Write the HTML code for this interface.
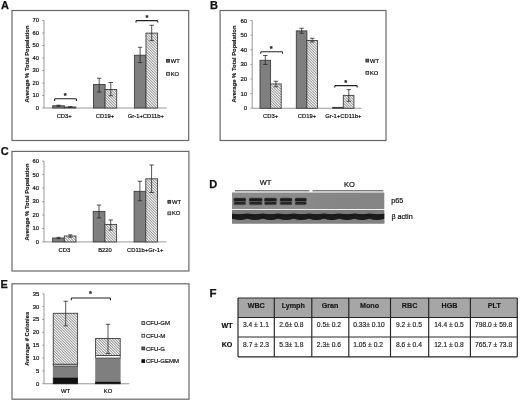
<!DOCTYPE html>
<html><head><meta charset="utf-8"><title>Figure</title>
<style>
html,body{margin:0;padding:0;background:#fff;}
body{width:520px;height:401px;overflow:hidden;position:relative;font-family:"Liberation Sans",Arial,sans-serif;}
svg{position:absolute;left:0;top:0;display:block;}
svg text{font-family:"Liberation Sans",Arial,sans-serif;}
</style></head><body>
<svg width="520" height="401" viewBox="0 0 520 401">
<defs>
<pattern id="hatch" width="1.5" height="1.5" patternUnits="userSpaceOnUse" patternTransform="rotate(-45)">
<rect width="1.5" height="1.5" fill="#fff"/>
<rect x="0" y="0" width="0.55" height="1.5" fill="#6a6a6a"/>
</pattern>
<linearGradient id="blotA" x1="0" x2="1" y1="0" y2="0">
<stop offset="0" stop-color="#8c8c8c"/><stop offset="0.45" stop-color="#8b8b8b"/><stop offset="0.6" stop-color="#868686"/><stop offset="1" stop-color="#848484"/>
</linearGradient>
<clipPath id="clipP"><rect x="232" y="192.5" width="152.3" height="16.5"/></clipPath>
<clipPath id="clipA"><rect x="232" y="209.9" width="152.3" height="13.6"/></clipPath>
<filter id="hb" x="-5%" y="-5%" width="110%" height="110%"><feGaussianBlur stdDeviation="0.35"/></filter>
<filter id="blur1" x="-10%" y="-50%" width="120%" height="200%"><feGaussianBlur stdDeviation="0.6"/></filter>
<filter id="blur2" x="-10%" y="-50%" width="120%" height="200%"><feGaussianBlur stdDeviation="0.8"/></filter>
</defs>
<rect width="520" height="401" fill="#fff"/>

<g id="panelA">
<rect x="12" y="10.5" width="176.7" height="130.0" fill="#fff" stroke="#686868" stroke-width="1.2"/>
<text x="1.0" y="9.3" font-size="11" text-anchor="start" font-weight="bold" fill="#111"  stroke="#111" stroke-width="0.25">A</text>
<path d="M44 20.5V108H166.8" stroke="#8c8c8c" stroke-width="0.9" fill="none"/>
<path d="M42.2 108.00H44" stroke="#8c8c8c" stroke-width="0.8"/>
<text x="39.0" y="109.7" font-size="5.8" text-anchor="end" fill="#111"  stroke="#111" stroke-width="0.2">0</text>
<path d="M42.2 95.50H44" stroke="#8c8c8c" stroke-width="0.8"/>
<text x="39.0" y="97.2" font-size="5.8" text-anchor="end" fill="#111"  stroke="#111" stroke-width="0.2">10</text>
<path d="M42.2 83.00H44" stroke="#8c8c8c" stroke-width="0.8"/>
<text x="39.0" y="84.7" font-size="5.8" text-anchor="end" fill="#111"  stroke="#111" stroke-width="0.2">20</text>
<path d="M42.2 70.50H44" stroke="#8c8c8c" stroke-width="0.8"/>
<text x="39.0" y="72.2" font-size="5.8" text-anchor="end" fill="#111"  stroke="#111" stroke-width="0.2">30</text>
<path d="M42.2 58.00H44" stroke="#8c8c8c" stroke-width="0.8"/>
<text x="39.0" y="59.7" font-size="5.8" text-anchor="end" fill="#111"  stroke="#111" stroke-width="0.2">40</text>
<path d="M42.2 45.50H44" stroke="#8c8c8c" stroke-width="0.8"/>
<text x="39.0" y="47.2" font-size="5.8" text-anchor="end" fill="#111"  stroke="#111" stroke-width="0.2">50</text>
<path d="M42.2 33.00H44" stroke="#8c8c8c" stroke-width="0.8"/>
<text x="39.0" y="34.7" font-size="5.8" text-anchor="end" fill="#111"  stroke="#111" stroke-width="0.2">60</text>
<path d="M42.2 20.50H44" stroke="#8c8c8c" stroke-width="0.8"/>
<text x="39.0" y="22.2" font-size="5.8" text-anchor="end" fill="#111"  stroke="#111" stroke-width="0.2">70</text>
<text transform="translate(28.6,64) rotate(-90)" font-size="5.8" text-anchor="middle" font-weight="bold" fill="#111" stroke="#111" stroke-width="0.12" textLength="77" lengthAdjust="spacingAndGlyphs">Average % Total Population</text>
<rect x="52.699999999999996" y="105.75" width="11.60" height="2.25" fill="#7f7f7f" stroke="#3e3e3e" stroke-width="0.9"/>
<rect x="64.3" y="107.0" width="11.60" height="1.00" fill="#fff"/>
<path d="M74.60 107.00L75.60 108.00M71.90 107.00L72.90 108.00M69.20 107.00L70.20 108.00M66.50 107.00L67.50 108.00M64.30 107.50L64.80 108.00" stroke="#3a3a3a" stroke-width="1.1" stroke-opacity="0.32" fill="none"/>
<path d="M74.60 107.00L75.60 108.00M71.90 107.00L72.90 108.00M69.20 107.00L70.20 108.00M66.50 107.00L67.50 108.00M64.30 107.50L64.80 108.00" stroke="#3a3a3a" stroke-width="0.6" stroke-opacity="0.55" fill="none"/>
<rect x="64.3" y="107.0" width="11.60" height="1.00" fill="none" stroke="#3e3e3e" stroke-width="0.9"/>
<rect x="93.5" y="84.5" width="11.60" height="23.50" fill="#7f7f7f" stroke="#3e3e3e" stroke-width="0.9"/>
<rect x="105.1" y="89.5" width="11.60" height="18.50" fill="#fff"/>
<path d="M116.50 89.50L116.70 89.70M113.80 89.50L116.70 92.40M111.10 89.50L116.70 95.10M108.40 89.50L116.70 97.80M105.70 89.50L116.70 100.50M105.10 91.60L116.70 103.20M105.10 94.30L116.70 105.90M105.10 97.00L116.10 108.00M105.10 99.70L113.40 108.00M105.10 102.40L110.70 108.00M105.10 105.10L108.00 108.00M105.10 107.80L105.30 108.00" stroke="#3a3a3a" stroke-width="1.1" stroke-opacity="0.32" fill="none"/>
<path d="M116.50 89.50L116.70 89.70M113.80 89.50L116.70 92.40M111.10 89.50L116.70 95.10M108.40 89.50L116.70 97.80M105.70 89.50L116.70 100.50M105.10 91.60L116.70 103.20M105.10 94.30L116.70 105.90M105.10 97.00L116.10 108.00M105.10 99.70L113.40 108.00M105.10 102.40L110.70 108.00M105.10 105.10L108.00 108.00M105.10 107.80L105.30 108.00" stroke="#3a3a3a" stroke-width="0.6" stroke-opacity="0.55" fill="none"/>
<rect x="105.1" y="89.5" width="11.60" height="18.50" fill="none" stroke="#3e3e3e" stroke-width="0.9"/>
<rect x="134.4" y="55.25" width="11.60" height="52.75" fill="#7f7f7f" stroke="#3e3e3e" stroke-width="0.9"/>
<rect x="146.0" y="33.125" width="11.60" height="74.88" fill="#fff"/>
<path d="M157.32 33.12L157.60 33.40M154.62 33.12L157.60 36.10M151.93 33.12L157.60 38.80M149.23 33.13L157.60 41.50M146.53 33.12L157.60 44.20M146.00 35.30L157.60 46.90M146.00 38.00L157.60 49.60M146.00 40.70L157.60 52.30M146.00 43.40L157.60 55.00M146.00 46.10L157.60 57.70M146.00 48.80L157.60 60.40M146.00 51.50L157.60 63.10M146.00 54.20L157.60 65.80M146.00 56.90L157.60 68.50M146.00 59.60L157.60 71.20M146.00 62.30L157.60 73.90M146.00 65.00L157.60 76.60M146.00 67.70L157.60 79.30M146.00 70.40L157.60 82.00M146.00 73.10L157.60 84.70M146.00 75.80L157.60 87.40M146.00 78.50L157.60 90.10M146.00 81.20L157.60 92.80M146.00 83.90L157.60 95.50M146.00 86.60L157.60 98.20M146.00 89.30L157.60 100.90M146.00 92.00L157.60 103.60M146.00 94.70L157.60 106.30M146.00 97.40L156.60 108.00M146.00 100.10L153.90 108.00M146.00 102.80L151.20 108.00M146.00 105.50L148.50 108.00" stroke="#3a3a3a" stroke-width="1.1" stroke-opacity="0.32" fill="none"/>
<path d="M157.32 33.12L157.60 33.40M154.62 33.12L157.60 36.10M151.93 33.12L157.60 38.80M149.23 33.13L157.60 41.50M146.53 33.12L157.60 44.20M146.00 35.30L157.60 46.90M146.00 38.00L157.60 49.60M146.00 40.70L157.60 52.30M146.00 43.40L157.60 55.00M146.00 46.10L157.60 57.70M146.00 48.80L157.60 60.40M146.00 51.50L157.60 63.10M146.00 54.20L157.60 65.80M146.00 56.90L157.60 68.50M146.00 59.60L157.60 71.20M146.00 62.30L157.60 73.90M146.00 65.00L157.60 76.60M146.00 67.70L157.60 79.30M146.00 70.40L157.60 82.00M146.00 73.10L157.60 84.70M146.00 75.80L157.60 87.40M146.00 78.50L157.60 90.10M146.00 81.20L157.60 92.80M146.00 83.90L157.60 95.50M146.00 86.60L157.60 98.20M146.00 89.30L157.60 100.90M146.00 92.00L157.60 103.60M146.00 94.70L157.60 106.30M146.00 97.40L156.60 108.00M146.00 100.10L153.90 108.00M146.00 102.80L151.20 108.00M146.00 105.50L148.50 108.00" stroke="#3a3a3a" stroke-width="0.6" stroke-opacity="0.55" fill="none"/>
<rect x="146.0" y="33.125" width="11.60" height="74.88" fill="none" stroke="#3e3e3e" stroke-width="0.9"/>
<path d="M58.5 105.2V106.4M56.5 105.2H60.5M56.5 106.4H60.5" stroke="#2a2a2a" stroke-width="0.8" fill="none"/>
<path d="M70.3 106.6V107.4M68.3 106.6H72.3M68.3 107.4H72.3" stroke="#2a2a2a" stroke-width="0.8" fill="none"/>
<path d="M99.2 78.25V92M97.0 78.25H101.4M97.0 92H101.4" stroke="#2a2a2a" stroke-width="0.8" fill="none"/>
<path d="M110.8 82.5V95.75M108.6 82.5H113.0M108.6 95.75H113.0" stroke="#2a2a2a" stroke-width="0.8" fill="none"/>
<path d="M140.1 47.25V62.5M137.9 47.25H142.29999999999998M137.9 62.5H142.29999999999998" stroke="#2a2a2a" stroke-width="0.8" fill="none"/>
<path d="M151.7 25.25V40.6M149.5 25.25H153.89999999999998M149.5 40.6H153.89999999999998" stroke="#2a2a2a" stroke-width="0.8" fill="none"/>
<path d="M54.6 100.9V99.6Q54.6 98.8 55.4 98.8H75.60000000000001Q76.4 98.8 76.4 99.6V100.9" stroke="#222" stroke-width="1.1" fill="none"/>
<text x="65.3" y="98.3" font-size="7.5" text-anchor="middle" font-weight="bold" fill="#111"  stroke="#111" stroke-width="0.2">*</text>
<path d="M136 22.6V21.400000000000002Q136 20.6 136.8 20.6H156.95Q157.75 20.6 157.75 21.400000000000002V22.6" stroke="#222" stroke-width="1.1" fill="none"/>
<text x="146.9" y="20.05" font-size="7.5" text-anchor="middle" font-weight="bold" fill="#111"  stroke="#111" stroke-width="0.2">*</text>
<text x="64.2" y="118.2" font-size="5.85" text-anchor="middle" fill="#111"  stroke="#111" stroke-width="0.2">CD3+</text>
<text x="105.0" y="118.2" font-size="5.85" text-anchor="middle" fill="#111"  stroke="#111" stroke-width="0.2">CD19+</text>
<text x="145.9" y="118.2" font-size="5.85" text-anchor="middle" fill="#111"  stroke="#111" stroke-width="0.2">Gr-1+CD11b+</text>
<rect x="166.60" y="59.40" width="2.8" height="2.8" fill="#686868" stroke="#2e2e2e" stroke-width="0.9"/>
<text x="170.7" y="62.9" font-size="5.8" text-anchor="start" fill="#111"  stroke="#111" stroke-width="0.2">WT</text>
<rect x="166.60" y="72.40" width="2.8" height="2.8" fill="#d4d4d4" stroke="#3a3a3a" stroke-width="0.9"/>
<text x="170.7" y="75.9" font-size="5.8" text-anchor="start" fill="#111"  stroke="#111" stroke-width="0.2">KO</text>
</g>
<g id="panelB">
<rect x="220.1" y="10.5" width="165.9" height="130.0" fill="#fff" stroke="#686868" stroke-width="1.2"/>
<text x="210.0" y="9.3" font-size="11" text-anchor="start" font-weight="bold" fill="#111"  stroke="#111" stroke-width="0.25">B</text>
<path d="M252.2 20.5V108.25H361.5" stroke="#8c8c8c" stroke-width="0.9" fill="none"/>
<path d="M250.39999999999998 108.25H252.2" stroke="#8c8c8c" stroke-width="0.8"/>
<text x="247.2" y="110.25" font-size="6.0" text-anchor="end" fill="#111"  stroke="#111" stroke-width="0.2">0</text>
<path d="M250.39999999999998 93.62H252.2" stroke="#8c8c8c" stroke-width="0.8"/>
<text x="247.2" y="95.62" font-size="6.0" text-anchor="end" fill="#111"  stroke="#111" stroke-width="0.2">10</text>
<path d="M250.39999999999998 79.00H252.2" stroke="#8c8c8c" stroke-width="0.8"/>
<text x="247.2" y="81.0" font-size="6.0" text-anchor="end" fill="#111"  stroke="#111" stroke-width="0.2">20</text>
<path d="M250.39999999999998 64.38H252.2" stroke="#8c8c8c" stroke-width="0.8"/>
<text x="247.2" y="66.38" font-size="6.0" text-anchor="end" fill="#111"  stroke="#111" stroke-width="0.2">30</text>
<path d="M250.39999999999998 49.75H252.2" stroke="#8c8c8c" stroke-width="0.8"/>
<text x="247.2" y="51.75" font-size="6.0" text-anchor="end" fill="#111"  stroke="#111" stroke-width="0.2">40</text>
<path d="M250.39999999999998 35.12H252.2" stroke="#8c8c8c" stroke-width="0.8"/>
<text x="247.2" y="37.12" font-size="6.0" text-anchor="end" fill="#111"  stroke="#111" stroke-width="0.2">50</text>
<path d="M250.39999999999998 20.50H252.2" stroke="#8c8c8c" stroke-width="0.8"/>
<text x="247.2" y="22.5" font-size="6.0" text-anchor="end" fill="#111"  stroke="#111" stroke-width="0.2">60</text>
<text transform="translate(236.3,64) rotate(-90)" font-size="5.8" text-anchor="middle" font-weight="bold" fill="#111" stroke="#111" stroke-width="0.12" textLength="77" lengthAdjust="spacingAndGlyphs">Average % Total Population</text>
<rect x="260.0" y="60.28000000000001" width="10.60" height="47.97" fill="#7f7f7f" stroke="#3e3e3e" stroke-width="0.9"/>
<rect x="270.6" y="83.9725" width="10.60" height="24.28" fill="#fff"/>
<path d="M281.07 83.97L281.20 84.10M278.37 83.97L281.20 86.80M275.67 83.97L281.20 89.50M272.97 83.97L281.20 92.20M270.60 84.30L281.20 94.90M270.60 87.00L281.20 97.60M270.60 89.70L281.20 100.30M270.60 92.40L281.20 103.00M270.60 95.10L281.20 105.70M270.60 97.80L281.05 108.25M270.60 100.50L278.35 108.25M270.60 103.20L275.65 108.25M270.60 105.90L272.95 108.25" stroke="#3a3a3a" stroke-width="1.1" stroke-opacity="0.32" fill="none"/>
<path d="M281.07 83.97L281.20 84.10M278.37 83.97L281.20 86.80M275.67 83.97L281.20 89.50M272.97 83.97L281.20 92.20M270.60 84.30L281.20 94.90M270.60 87.00L281.20 97.60M270.60 89.70L281.20 100.30M270.60 92.40L281.20 103.00M270.60 95.10L281.20 105.70M270.60 97.80L281.05 108.25M270.60 100.50L278.35 108.25M270.60 103.20L275.65 108.25M270.60 105.90L272.95 108.25" stroke="#3a3a3a" stroke-width="0.6" stroke-opacity="0.55" fill="none"/>
<rect x="270.6" y="83.9725" width="10.60" height="24.28" fill="none" stroke="#3e3e3e" stroke-width="0.9"/>
<rect x="296.29999999999995" y="30.883750000000006" width="10.60" height="77.37" fill="#7f7f7f" stroke="#3e3e3e" stroke-width="0.9"/>
<rect x="306.9" y="40.53625000000001" width="10.60" height="67.71" fill="#fff"/>
<path d="M315.94 40.54L317.50 42.10M313.24 40.54L317.50 44.80M310.54 40.54L317.50 47.50M307.84 40.54L317.50 50.20M306.90 42.30L317.50 52.90M306.90 45.00L317.50 55.60M306.90 47.70L317.50 58.30M306.90 50.40L317.50 61.00M306.90 53.10L317.50 63.70M306.90 55.80L317.50 66.40M306.90 58.50L317.50 69.10M306.90 61.20L317.50 71.80M306.90 63.90L317.50 74.50M306.90 66.60L317.50 77.20M306.90 69.30L317.50 79.90M306.90 72.00L317.50 82.60M306.90 74.70L317.50 85.30M306.90 77.40L317.50 88.00M306.90 80.10L317.50 90.70M306.90 82.80L317.50 93.40M306.90 85.50L317.50 96.10M306.90 88.20L317.50 98.80M306.90 90.90L317.50 101.50M306.90 93.60L317.50 104.20M306.90 96.30L317.50 106.90M306.90 99.00L316.15 108.25M306.90 101.70L313.45 108.25M306.90 104.40L310.75 108.25M306.90 107.10L308.05 108.25" stroke="#3a3a3a" stroke-width="1.1" stroke-opacity="0.32" fill="none"/>
<path d="M315.94 40.54L317.50 42.10M313.24 40.54L317.50 44.80M310.54 40.54L317.50 47.50M307.84 40.54L317.50 50.20M306.90 42.30L317.50 52.90M306.90 45.00L317.50 55.60M306.90 47.70L317.50 58.30M306.90 50.40L317.50 61.00M306.90 53.10L317.50 63.70M306.90 55.80L317.50 66.40M306.90 58.50L317.50 69.10M306.90 61.20L317.50 71.80M306.90 63.90L317.50 74.50M306.90 66.60L317.50 77.20M306.90 69.30L317.50 79.90M306.90 72.00L317.50 82.60M306.90 74.70L317.50 85.30M306.90 77.40L317.50 88.00M306.90 80.10L317.50 90.70M306.90 82.80L317.50 93.40M306.90 85.50L317.50 96.10M306.90 88.20L317.50 98.80M306.90 90.90L317.50 101.50M306.90 93.60L317.50 104.20M306.90 96.30L317.50 106.90M306.90 99.00L316.15 108.25M306.90 101.70L313.45 108.25M306.90 104.40L310.75 108.25M306.90 107.10L308.05 108.25" stroke="#3a3a3a" stroke-width="0.6" stroke-opacity="0.55" fill="none"/>
<rect x="306.9" y="40.53625000000001" width="10.60" height="67.71" fill="none" stroke="#3e3e3e" stroke-width="0.9"/>
<rect x="332.7" y="107.3725" width="10.60" height="0.88" fill="#7f7f7f" stroke="#3e3e3e" stroke-width="0.9"/>
<rect x="343.3" y="95.38" width="10.60" height="12.87" fill="#fff"/>
<path d="M351.88 95.38L353.90 97.40M349.18 95.38L353.90 100.10M346.48 95.38L353.90 102.80M343.78 95.38L353.90 105.50M343.30 97.60L353.90 108.20M343.30 100.30L351.25 108.25M343.30 103.00L348.55 108.25M343.30 105.70L345.85 108.25" stroke="#3a3a3a" stroke-width="1.1" stroke-opacity="0.32" fill="none"/>
<path d="M351.88 95.38L353.90 97.40M349.18 95.38L353.90 100.10M346.48 95.38L353.90 102.80M343.78 95.38L353.90 105.50M343.30 97.60L353.90 108.20M343.30 100.30L351.25 108.25M343.30 103.00L348.55 108.25M343.30 105.70L345.85 108.25" stroke="#3a3a3a" stroke-width="0.6" stroke-opacity="0.55" fill="none"/>
<rect x="343.3" y="95.38" width="10.60" height="12.87" fill="none" stroke="#3e3e3e" stroke-width="0.9"/>
<path d="M265.3 55.5V64.5M263.1 55.5H267.5M263.1 64.5H267.5" stroke="#2a2a2a" stroke-width="0.8" fill="none"/>
<path d="M275.9 81.25V86.75M273.7 81.25H278.09999999999997M273.7 86.75H278.09999999999997" stroke="#2a2a2a" stroke-width="0.8" fill="none"/>
<path d="M301.6 28.25V33.25M299.40000000000003 28.25H303.8M299.40000000000003 33.25H303.8" stroke="#2a2a2a" stroke-width="0.8" fill="none"/>
<path d="M312.2 38.25V42M310.0 38.25H314.4M310.0 42H314.4" stroke="#2a2a2a" stroke-width="0.8" fill="none"/>
<path d="M348.8 89.6V101.4M346.6 89.6H351.0M346.6 101.4H351.0" stroke="#2a2a2a" stroke-width="0.8" fill="none"/>
<path d="M260.75 53.75V52.55Q260.75 51.75 261.55 51.75H281.7Q282.5 51.75 282.5 52.55V53.75" stroke="#222" stroke-width="1.1" fill="none"/>
<text x="271.25" y="50.55" font-size="7.5" text-anchor="middle" font-weight="bold" fill="#111"  stroke="#111" stroke-width="0.2">*</text>
<path d="M334.8 87.6V86.39999999999999Q334.8 85.6 335.6 85.6H356.4Q357.2 85.6 357.2 86.39999999999999V87.6" stroke="#222" stroke-width="1.1" fill="none"/>
<text x="345.7" y="84.7" font-size="7.5" text-anchor="middle" font-weight="bold" fill="#111"  stroke="#111" stroke-width="0.2">*</text>
<text x="270.6" y="118.2" font-size="5.85" text-anchor="middle" fill="#111"  stroke="#111" stroke-width="0.2">CD3+</text>
<text x="306.9" y="118.2" font-size="5.85" text-anchor="middle" fill="#111"  stroke="#111" stroke-width="0.2">CD19+</text>
<text x="343.3" y="118.2" font-size="5.85" text-anchor="middle" fill="#111"  stroke="#111" stroke-width="0.2">Gr-1+CD11b+</text>
<rect x="365.90" y="59.15" width="2.8" height="2.8" fill="#686868" stroke="#2e2e2e" stroke-width="0.9"/>
<text x="370.0" y="62.65" font-size="5.8" text-anchor="start" fill="#111"  stroke="#111" stroke-width="0.2">WT</text>
<rect x="365.90" y="71.40" width="2.8" height="2.8" fill="#d4d4d4" stroke="#3a3a3a" stroke-width="0.9"/>
<text x="370.0" y="74.9" font-size="5.8" text-anchor="start" fill="#111"  stroke="#111" stroke-width="0.2">KO</text>
</g>
<g id="panelC">
<rect x="12" y="151.4" width="176.9" height="119.6" fill="#fff" stroke="#686868" stroke-width="1.2"/>
<text x="0.8" y="154.6" font-size="11" text-anchor="start" font-weight="bold" fill="#111"  stroke="#111" stroke-width="0.25">C</text>
<path d="M44 161.2V241.9H166.5" stroke="#8c8c8c" stroke-width="0.9" fill="none"/>
<path d="M42.2 241.90H44" stroke="#8c8c8c" stroke-width="0.8"/>
<text x="38.9" y="243.8" font-size="5.8" text-anchor="end" fill="#111"  stroke="#111" stroke-width="0.2">0</text>
<path d="M42.2 228.45H44" stroke="#8c8c8c" stroke-width="0.8"/>
<text x="38.9" y="230.35" font-size="5.8" text-anchor="end" fill="#111"  stroke="#111" stroke-width="0.2">10</text>
<path d="M42.2 215.00H44" stroke="#8c8c8c" stroke-width="0.8"/>
<text x="38.9" y="216.9" font-size="5.8" text-anchor="end" fill="#111"  stroke="#111" stroke-width="0.2">20</text>
<path d="M42.2 201.55H44" stroke="#8c8c8c" stroke-width="0.8"/>
<text x="38.9" y="203.45" font-size="5.8" text-anchor="end" fill="#111"  stroke="#111" stroke-width="0.2">30</text>
<path d="M42.2 188.10H44" stroke="#8c8c8c" stroke-width="0.8"/>
<text x="38.9" y="190.0" font-size="5.8" text-anchor="end" fill="#111"  stroke="#111" stroke-width="0.2">40</text>
<path d="M42.2 174.65H44" stroke="#8c8c8c" stroke-width="0.8"/>
<text x="38.9" y="176.55" font-size="5.8" text-anchor="end" fill="#111"  stroke="#111" stroke-width="0.2">50</text>
<path d="M42.2 161.20H44" stroke="#8c8c8c" stroke-width="0.8"/>
<text x="38.9" y="163.1" font-size="5.8" text-anchor="end" fill="#111"  stroke="#111" stroke-width="0.2">60</text>
<text transform="translate(28.8,202) rotate(-90)" font-size="5.8" text-anchor="middle" font-weight="bold" fill="#111" stroke="#111" stroke-width="0.12" textLength="77" lengthAdjust="spacingAndGlyphs">Average % Total Population</text>
<rect x="52.599999999999994" y="237.9995" width="11.70" height="3.90" fill="#7f7f7f" stroke="#3e3e3e" stroke-width="0.9"/>
<rect x="64.3" y="235.982" width="11.70" height="5.92" fill="#fff"/>
<path d="M73.98 235.98L76.00 238.00M71.28 235.98L76.00 240.70M68.58 235.98L74.50 241.90M65.88 235.98L71.80 241.90M64.30 237.10L69.10 241.90M64.30 239.80L66.40 241.90" stroke="#3a3a3a" stroke-width="1.1" stroke-opacity="0.32" fill="none"/>
<path d="M73.98 235.98L76.00 238.00M71.28 235.98L76.00 240.70M68.58 235.98L74.50 241.90M65.88 235.98L71.80 241.90M64.30 237.10L69.10 241.90M64.30 239.80L66.40 241.90" stroke="#3a3a3a" stroke-width="0.6" stroke-opacity="0.55" fill="none"/>
<rect x="64.3" y="235.982" width="11.70" height="5.92" fill="none" stroke="#3e3e3e" stroke-width="0.9"/>
<rect x="93.2" y="211.3685" width="11.70" height="30.53" fill="#7f7f7f" stroke="#3e3e3e" stroke-width="0.9"/>
<rect x="104.9" y="224.41500000000002" width="11.70" height="17.48" fill="#fff"/>
<path d="M116.42 224.42L116.60 224.60M113.72 224.42L116.60 227.30M111.02 224.42L116.60 230.00M108.32 224.42L116.60 232.70M105.62 224.42L116.60 235.40M104.90 226.40L116.60 238.10M104.90 229.10L116.60 240.80M104.90 231.80L115.00 241.90M104.90 234.50L112.30 241.90M104.90 237.20L109.60 241.90M104.90 239.90L106.90 241.90" stroke="#3a3a3a" stroke-width="1.1" stroke-opacity="0.32" fill="none"/>
<path d="M116.42 224.42L116.60 224.60M113.72 224.42L116.60 227.30M111.02 224.42L116.60 230.00M108.32 224.42L116.60 232.70M105.62 224.42L116.60 235.40M104.90 226.40L116.60 238.10M104.90 229.10L116.60 240.80M104.90 231.80L115.00 241.90M104.90 234.50L112.30 241.90M104.90 237.20L109.60 241.90M104.90 239.90L106.90 241.90" stroke="#3a3a3a" stroke-width="0.6" stroke-opacity="0.55" fill="none"/>
<rect x="104.9" y="224.41500000000002" width="11.70" height="17.48" fill="none" stroke="#3e3e3e" stroke-width="0.9"/>
<rect x="134.10000000000002" y="191.328" width="11.70" height="50.57" fill="#7f7f7f" stroke="#3e3e3e" stroke-width="0.9"/>
<rect x="145.8" y="178.8195" width="11.70" height="63.08" fill="#fff"/>
<path d="M157.22 178.82L157.50 179.10M154.52 178.82L157.50 181.80M151.82 178.82L157.50 184.50M149.12 178.82L157.50 187.20M146.42 178.82L157.50 189.90M145.80 180.90L157.50 192.60M145.80 183.60L157.50 195.30M145.80 186.30L157.50 198.00M145.80 189.00L157.50 200.70M145.80 191.70L157.50 203.40M145.80 194.40L157.50 206.10M145.80 197.10L157.50 208.80M145.80 199.80L157.50 211.50M145.80 202.50L157.50 214.20M145.80 205.20L157.50 216.90M145.80 207.90L157.50 219.60M145.80 210.60L157.50 222.30M145.80 213.30L157.50 225.00M145.80 216.00L157.50 227.70M145.80 218.70L157.50 230.40M145.80 221.40L157.50 233.10M145.80 224.10L157.50 235.80M145.80 226.80L157.50 238.50M145.80 229.50L157.50 241.20M145.80 232.20L155.50 241.90M145.80 234.90L152.80 241.90M145.80 237.60L150.10 241.90M145.80 240.30L147.40 241.90" stroke="#3a3a3a" stroke-width="1.1" stroke-opacity="0.32" fill="none"/>
<path d="M157.22 178.82L157.50 179.10M154.52 178.82L157.50 181.80M151.82 178.82L157.50 184.50M149.12 178.82L157.50 187.20M146.42 178.82L157.50 189.90M145.80 180.90L157.50 192.60M145.80 183.60L157.50 195.30M145.80 186.30L157.50 198.00M145.80 189.00L157.50 200.70M145.80 191.70L157.50 203.40M145.80 194.40L157.50 206.10M145.80 197.10L157.50 208.80M145.80 199.80L157.50 211.50M145.80 202.50L157.50 214.20M145.80 205.20L157.50 216.90M145.80 207.90L157.50 219.60M145.80 210.60L157.50 222.30M145.80 213.30L157.50 225.00M145.80 216.00L157.50 227.70M145.80 218.70L157.50 230.40M145.80 221.40L157.50 233.10M145.80 224.10L157.50 235.80M145.80 226.80L157.50 238.50M145.80 229.50L157.50 241.20M145.80 232.20L155.50 241.90M145.80 234.90L152.80 241.90M145.80 237.60L150.10 241.90M145.80 240.30L147.40 241.90" stroke="#3a3a3a" stroke-width="0.6" stroke-opacity="0.55" fill="none"/>
<rect x="145.8" y="178.8195" width="11.70" height="63.08" fill="none" stroke="#3e3e3e" stroke-width="0.9"/>
<path d="M58.5 237.3V238.7M56.5 237.3H60.5M56.5 238.7H60.5" stroke="#2a2a2a" stroke-width="0.8" fill="none"/>
<path d="M70.3 234.8V237.2M68.3 234.8H72.3M68.3 237.2H72.3" stroke="#2a2a2a" stroke-width="0.8" fill="none"/>
<path d="M99.0 205V218M96.8 205H101.2M96.8 218H101.2" stroke="#2a2a2a" stroke-width="0.8" fill="none"/>
<path d="M110.7 220V230M108.5 220H112.9M108.5 230H112.9" stroke="#2a2a2a" stroke-width="0.8" fill="none"/>
<path d="M139.9 181.25V200.75M137.70000000000002 181.25H142.1M137.70000000000002 200.75H142.1" stroke="#2a2a2a" stroke-width="0.8" fill="none"/>
<path d="M151.6 165V192.5M149.4 165H153.79999999999998M149.4 192.5H153.79999999999998" stroke="#2a2a2a" stroke-width="0.8" fill="none"/>
<text x="64.4" y="252" font-size="5.85" text-anchor="middle" fill="#111"  stroke="#111" stroke-width="0.2">CD3</text>
<text x="105.0" y="252" font-size="5.85" text-anchor="middle" fill="#111"  stroke="#111" stroke-width="0.2">B220</text>
<text x="145.2" y="252" font-size="5.85" text-anchor="middle" fill="#111"  stroke="#111" stroke-width="0.2">CD11b+Gr-1+</text>
<rect x="167.90" y="200.40" width="2.8" height="2.8" fill="#686868" stroke="#2e2e2e" stroke-width="0.9"/>
<text x="172.0" y="203.9" font-size="5.8" text-anchor="start" fill="#111"  stroke="#111" stroke-width="0.2">WT</text>
<rect x="167.90" y="211.90" width="2.8" height="2.8" fill="#d4d4d4" stroke="#3a3a3a" stroke-width="0.9"/>
<text x="172.0" y="215.4" font-size="5.8" text-anchor="start" fill="#111"  stroke="#111" stroke-width="0.2">KO</text>
</g>
<g id="panelE">
<rect x="12" y="283.8" width="177.0" height="115.39999999999998" fill="#fff" stroke="#686868" stroke-width="1.2"/>
<text x="0.6" y="287.7" font-size="11" text-anchor="start" font-weight="bold" fill="#111"  stroke="#111" stroke-width="0.25">E</text>
<path d="M44 293.751V383.75H129.5" stroke="#8c8c8c" stroke-width="0.9" fill="none"/>
<path d="M42.2 383.75H44" stroke="#8c8c8c" stroke-width="0.8"/>
<text x="39.4" y="385.75" font-size="5.9" text-anchor="end" fill="#111"  stroke="#111" stroke-width="0.2">0</text>
<path d="M42.2 370.89H44" stroke="#8c8c8c" stroke-width="0.8"/>
<text x="39.4" y="372.89" font-size="5.9" text-anchor="end" fill="#111"  stroke="#111" stroke-width="0.2">5</text>
<path d="M42.2 358.04H44" stroke="#8c8c8c" stroke-width="0.8"/>
<text x="39.4" y="360.04" font-size="5.9" text-anchor="end" fill="#111"  stroke="#111" stroke-width="0.2">10</text>
<path d="M42.2 345.18H44" stroke="#8c8c8c" stroke-width="0.8"/>
<text x="39.4" y="347.18" font-size="5.9" text-anchor="end" fill="#111"  stroke="#111" stroke-width="0.2">15</text>
<path d="M42.2 332.32H44" stroke="#8c8c8c" stroke-width="0.8"/>
<text x="39.4" y="334.32" font-size="5.9" text-anchor="end" fill="#111"  stroke="#111" stroke-width="0.2">20</text>
<path d="M42.2 319.47H44" stroke="#8c8c8c" stroke-width="0.8"/>
<text x="39.4" y="321.47" font-size="5.9" text-anchor="end" fill="#111"  stroke="#111" stroke-width="0.2">25</text>
<path d="M42.2 306.61H44" stroke="#8c8c8c" stroke-width="0.8"/>
<text x="39.4" y="308.61" font-size="5.9" text-anchor="end" fill="#111"  stroke="#111" stroke-width="0.2">30</text>
<path d="M42.2 293.75H44" stroke="#8c8c8c" stroke-width="0.8"/>
<text x="39.4" y="295.75" font-size="5.9" text-anchor="end" fill="#111"  stroke="#111" stroke-width="0.2">35</text>
<text transform="translate(29.4,338.8) rotate(-90)" font-size="5.8" text-anchor="middle" font-weight="bold" fill="#111" stroke="#111" stroke-width="0.12" textLength="54" lengthAdjust="spacingAndGlyphs">Average # Colonies</text>
<rect x="53.25" y="377.57864" width="24.35" height="6.17" fill="#111" stroke="#111" stroke-width="0.8"/>
<rect x="52.85" y="366.01" width="25.15" height="11.57" fill="#7f7f7f"/>
<rect x="53.25" y="364.20736" width="24.35" height="1.80" fill="#fff" stroke="#3e3e3e" stroke-width="0.8"/>
<rect x="53.25" y="313.29364" width="24.35" height="50.91" fill="#fff"/>
<path d="M75.69 313.29L77.60 315.20M72.99 313.29L77.60 317.90M70.29 313.29L77.60 320.60M67.59 313.29L77.60 323.30M64.89 313.29L77.60 326.00M62.19 313.29L77.60 328.70M59.49 313.29L77.60 331.40M56.79 313.29L77.60 334.10M54.09 313.29L77.60 336.80M53.25 315.15L77.60 339.50M53.25 317.85L77.60 342.20M53.25 320.55L77.60 344.90M53.25 323.25L77.60 347.60M53.25 325.95L77.60 350.30M53.25 328.65L77.60 353.00M53.25 331.35L77.60 355.70M53.25 334.05L77.60 358.40M53.25 336.75L77.60 361.10M53.25 339.45L77.60 363.80M53.25 342.15L75.31 364.21M53.25 344.85L72.61 364.21M53.25 347.55L69.91 364.21M53.25 350.25L67.21 364.21M53.25 352.95L64.51 364.21M53.25 355.65L61.81 364.21M53.25 358.35L59.11 364.21M53.25 361.05L56.41 364.21M53.25 363.75L53.71 364.21" stroke="#3a3a3a" stroke-width="1.1" stroke-opacity="0.32" fill="none"/>
<path d="M75.69 313.29L77.60 315.20M72.99 313.29L77.60 317.90M70.29 313.29L77.60 320.60M67.59 313.29L77.60 323.30M64.89 313.29L77.60 326.00M62.19 313.29L77.60 328.70M59.49 313.29L77.60 331.40M56.79 313.29L77.60 334.10M54.09 313.29L77.60 336.80M53.25 315.15L77.60 339.50M53.25 317.85L77.60 342.20M53.25 320.55L77.60 344.90M53.25 323.25L77.60 347.60M53.25 325.95L77.60 350.30M53.25 328.65L77.60 353.00M53.25 331.35L77.60 355.70M53.25 334.05L77.60 358.40M53.25 336.75L77.60 361.10M53.25 339.45L77.60 363.80M53.25 342.15L75.31 364.21M53.25 344.85L72.61 364.21M53.25 347.55L69.91 364.21M53.25 350.25L67.21 364.21M53.25 352.95L64.51 364.21M53.25 355.65L61.81 364.21M53.25 358.35L59.11 364.21M53.25 361.05L56.41 364.21M53.25 363.75L53.71 364.21" stroke="#3a3a3a" stroke-width="0.6" stroke-opacity="0.55" fill="none"/>
<rect x="53.25" y="313.29364" width="24.35" height="50.91" fill="none" stroke="#3e3e3e" stroke-width="0.9"/>
<rect x="95.6" y="381.69288" width="24.60" height="2.06" fill="#111" stroke="#111" stroke-width="0.8"/>
<rect x="95.19999999999999" y="358.04" width="25.40" height="23.66" fill="#7f7f7f"/>
<rect x="95.6" y="355.4646" width="24.60" height="2.57" fill="#fff" stroke="#3e3e3e" stroke-width="0.8"/>
<rect x="95.6" y="338.49336" width="24.60" height="16.97" fill="#fff"/>
<path d="M119.79 338.49L120.20 338.90M117.09 338.49L120.20 341.60M114.39 338.49L120.20 344.30M111.69 338.49L120.20 347.00M108.99 338.49L120.20 349.70M106.29 338.49L120.20 352.40M103.59 338.49L120.20 355.10M100.89 338.49L117.86 355.46M98.19 338.49L115.16 355.46M95.60 338.60L112.46 355.46M95.60 341.30L109.76 355.46M95.60 344.00L107.06 355.46M95.60 346.70L104.36 355.46M95.60 349.40L101.66 355.46M95.60 352.10L98.96 355.46M95.60 354.80L96.26 355.46" stroke="#3a3a3a" stroke-width="1.1" stroke-opacity="0.32" fill="none"/>
<path d="M119.79 338.49L120.20 338.90M117.09 338.49L120.20 341.60M114.39 338.49L120.20 344.30M111.69 338.49L120.20 347.00M108.99 338.49L120.20 349.70M106.29 338.49L120.20 352.40M103.59 338.49L120.20 355.10M100.89 338.49L117.86 355.46M98.19 338.49L115.16 355.46M95.60 338.60L112.46 355.46M95.60 341.30L109.76 355.46M95.60 344.00L107.06 355.46M95.60 346.70L104.36 355.46M95.60 349.40L101.66 355.46M95.60 352.10L98.96 355.46M95.60 354.80L96.26 355.46" stroke="#3a3a3a" stroke-width="0.6" stroke-opacity="0.55" fill="none"/>
<rect x="95.6" y="338.49336" width="24.60" height="16.97" fill="none" stroke="#3e3e3e" stroke-width="0.9"/>
<path d="M65.7 301.25V325.75M63.5 301.25H67.9M63.5 325.75H67.9" stroke="#2a2a2a" stroke-width="0.8" fill="none"/>
<path d="M108 324.3V353.5M105.8 324.3H110.2M105.8 353.5H110.2" stroke="#2a2a2a" stroke-width="0.8" fill="none"/>
<path d="M71.25 300.2V298.8Q71.25 298 72.05 298H109.7Q110.5 298 110.5 298.8V300.2" stroke="#222" stroke-width="1.1" fill="none"/>
<text x="90.5" y="296.40000000000003" font-size="7.5" text-anchor="middle" font-weight="bold" fill="#111"  stroke="#111" stroke-width="0.2">*</text>
<text x="65.5" y="392.7" font-size="5.85" text-anchor="middle" fill="#111"  stroke="#111" stroke-width="0.2">WT</text>
<text x="108" y="392.7" font-size="5.85" text-anchor="middle" fill="#111"  stroke="#111" stroke-width="0.2">KO</text>
<rect x="141.90" y="321.65" width="2.8" height="2.8" fill="#d4d4d4" stroke="#3a3a3a" stroke-width="0.9"/>
<text x="146.0" y="325.15" font-size="6.0" text-anchor="start" fill="#111"  stroke="#111" stroke-width="0.2">CFU-GM</text>
<rect x="141.90" y="334.30" width="2.8" height="2.8" fill="#fff" stroke="#3a3a3a" stroke-width="0.9"/>
<text x="146.0" y="337.79999999999995" font-size="6.0" text-anchor="start" fill="#111"  stroke="#111" stroke-width="0.2">CFU-M</text>
<rect x="141.90" y="347.00" width="2.8" height="2.8" fill="#686868" stroke="#2e2e2e" stroke-width="0.9"/>
<text x="146.0" y="350.5" font-size="6.0" text-anchor="start" fill="#111"  stroke="#111" stroke-width="0.2">CFU-G</text>
<rect x="141.90" y="359.70" width="2.8" height="2.8" fill="#111" stroke="#111" stroke-width="0.9"/>
<text x="146.0" y="363.2" font-size="6.0" text-anchor="start" fill="#111"  stroke="#111" stroke-width="0.2">CFU-GEMM</text>
</g>
<g id="panelD">
<text x="209.3" y="188.1" font-size="11" text-anchor="start" font-weight="bold" fill="#111"  stroke="#111" stroke-width="0.25">D</text>
<text x="265.5" y="185.1" font-size="7.5" text-anchor="middle" fill="#111"  stroke="#111" stroke-width="0.2">WT</text>
<text x="349.3" y="186.6" font-size="7.5" text-anchor="middle" fill="#111"  stroke="#111" stroke-width="0.2">KO</text>
<path d="M235 190.8H309.3M312.5 190.8H383.4" stroke="#444" stroke-width="1"/>
<rect x="232" y="192.5" width="152.3" height="16.5" fill="url(#blotA)"/>
<rect x="232" y="209.9" width="152.3" height="13.6" fill="#7a7a7a"/>
<rect x="232" y="220" width="152.3" height="3.5" fill="#828282"/>
<g clip-path="url(#clipP)"><g filter="url(#blur1)">
<rect x="233.3" y="197.6" width="13.0" height="7.6" rx="2" fill="#555" opacity="0.7"/>
<rect x="233.8" y="198.2" width="12.0" height="3.0" rx="1.3" fill="#1c1c1c"/>
<rect x="234.10000000000002" y="202.1" width="11.4" height="2.5" rx="1.2" fill="#282828"/>
<rect x="248.7" y="197.6" width="14.0" height="7.6" rx="2" fill="#555" opacity="0.7"/>
<rect x="249.2" y="198.2" width="13.0" height="3.0" rx="1.3" fill="#1c1c1c"/>
<rect x="249.5" y="202.1" width="12.4" height="2.5" rx="1.2" fill="#282828"/>
<rect x="263.9" y="197.6" width="13.2" height="7.6" rx="2" fill="#555" opacity="0.7"/>
<rect x="264.4" y="198.2" width="12.2" height="3.0" rx="1.3" fill="#1c1c1c"/>
<rect x="264.7" y="202.1" width="11.6" height="2.5" rx="1.2" fill="#282828"/>
<rect x="279.5" y="197.6" width="13.0" height="7.6" rx="2" fill="#555" opacity="0.7"/>
<rect x="280" y="198.2" width="12.0" height="3.0" rx="1.3" fill="#1c1c1c"/>
<rect x="280.3" y="202.1" width="11.4" height="2.5" rx="1.2" fill="#282828"/>
<rect x="294.5" y="197.6" width="12.4" height="7.6" rx="2" fill="#555" opacity="0.7"/>
<rect x="295" y="198.2" width="11.4" height="3.0" rx="1.3" fill="#1c1c1c"/>
<rect x="295.3" y="202.1" width="10.8" height="2.5" rx="1.2" fill="#282828"/>
</g></g>
<g clip-path="url(#clipA)"><g filter="url(#blur1)">
<path d="M230.2 216.0 Q239.8 217.6 247.5 216.0 Q255.2 217.6 262.8 216.0 Q270.5 217.6 278.2 216.0 Q285.9 217.6 293.6 216.0 Q301.2 217.6 308.8 216.0 Q316.4 217.6 324 216.0 Q331.7 217.6 339.4 216.0 Q347.0 217.6 354.6 216.0 Q362.0 217.6 369.4 216.0 Q376.8 217.6 386.2 216.0" stroke="#1a1a1a" stroke-width="5.0" fill="none"/>
<ellipse cx="239.8" cy="217.3" rx="7.4" ry="2.7" fill="#1a1a1a"/>
<ellipse cx="255.2" cy="217.3" rx="7.4" ry="2.7" fill="#1a1a1a"/>
<ellipse cx="270.5" cy="217.3" rx="7.4" ry="2.7" fill="#1a1a1a"/>
<ellipse cx="285.9" cy="217.3" rx="7.4" ry="2.7" fill="#1a1a1a"/>
<ellipse cx="301.2" cy="217.3" rx="7.4" ry="2.7" fill="#1a1a1a"/>
<ellipse cx="316.4" cy="217.3" rx="7.4" ry="2.7" fill="#1a1a1a"/>
<ellipse cx="331.7" cy="217.3" rx="7.4" ry="2.7" fill="#1a1a1a"/>
<ellipse cx="347.0" cy="217.3" rx="7.4" ry="2.7" fill="#1a1a1a"/>
<ellipse cx="362.0" cy="217.3" rx="7.4" ry="2.7" fill="#1a1a1a"/>
<ellipse cx="376.8" cy="217.3" rx="7.4" ry="2.7" fill="#1a1a1a"/>
</g></g>
<text x="391.3" y="203.2" font-size="7.2" text-anchor="start" fill="#111"  stroke="#111" stroke-width="0.2">p65</text>
<text x="391.4" y="219.4" font-size="7.2" text-anchor="start" fill="#111"  stroke="#111" stroke-width="0.2">β actin</text>
</g>
<g id="panelF">
<text x="209.6" y="296.9" font-size="11.5" text-anchor="start" font-weight="bold" fill="#111"  stroke="#111" stroke-width="0.25">F</text>
<rect x="238" y="298" width="279.3" height="19.5" fill="#a6a6a6"/>
<rect x="238" y="317.5" width="279.3" height="39.3" fill="#fff"/>
<path d="M238 298V356.8M274.3 298V356.8M311.8 298V356.8M348.8 298V356.8M390.5 298V356.8M428.7 298V356.8M470.4 298V356.8M517.3 298V356.8M238 298H517.3M238 317.5H517.3M238 337H517.3M238 356.8H517.3" stroke="#262626" stroke-width="1.15" fill="none"/>
<text x="256.2" y="307.9" font-size="7.15" text-anchor="middle" font-weight="bold" fill="#1a1a1a"  stroke="#1a1a1a" stroke-width="0.2">WBC</text>
<text x="255.9" y="326.9" font-size="6.7" text-anchor="middle" fill="#2a2a2a"  stroke="#2a2a2a" stroke-width="0.2">3.4 ± 1.1</text>
<text x="256.1" y="347.0" font-size="6.7" text-anchor="middle" fill="#2a2a2a"  stroke="#2a2a2a" stroke-width="0.2">8.7 ± 2.3</text>
<text x="293.2" y="307.9" font-size="7.15" text-anchor="middle" font-weight="bold" fill="#1a1a1a"  stroke="#1a1a1a" stroke-width="0.2">Lymph</text>
<text x="291.4" y="326.9" font-size="6.7" text-anchor="middle" fill="#2a2a2a"  stroke="#2a2a2a" stroke-width="0.2">2.6± 0.8</text>
<text x="291.4" y="347.0" font-size="6.7" text-anchor="middle" fill="#2a2a2a"  stroke="#2a2a2a" stroke-width="0.2">5.3± 1.8</text>
<text x="330.1" y="307.9" font-size="7.15" text-anchor="middle" font-weight="bold" fill="#1a1a1a"  stroke="#1a1a1a" stroke-width="0.2">Gran</text>
<text x="328.9" y="326.9" font-size="6.7" text-anchor="middle" fill="#2a2a2a"  stroke="#2a2a2a" stroke-width="0.2">0.5± 0.2</text>
<text x="328.9" y="347.0" font-size="6.7" text-anchor="middle" fill="#2a2a2a"  stroke="#2a2a2a" stroke-width="0.2">2.3± 0.6</text>
<text x="369.6" y="307.9" font-size="7.15" text-anchor="middle" font-weight="bold" fill="#1a1a1a"  stroke="#1a1a1a" stroke-width="0.2">Mono</text>
<text x="369.0" y="326.9" font-size="6.7" text-anchor="middle" fill="#2a2a2a"  stroke="#2a2a2a" stroke-width="0.2">0.33± 0.10</text>
<text x="368.1" y="347.0" font-size="6.7" text-anchor="middle" fill="#2a2a2a"  stroke="#2a2a2a" stroke-width="0.2">1.05 ± 0.2</text>
<text x="409.6" y="307.9" font-size="7.15" text-anchor="middle" font-weight="bold" fill="#1a1a1a"  stroke="#1a1a1a" stroke-width="0.2">RBC</text>
<text x="408.9" y="326.9" font-size="6.7" text-anchor="middle" fill="#2a2a2a"  stroke="#2a2a2a" stroke-width="0.2">9.2 ± 0.5</text>
<text x="408.9" y="347.0" font-size="6.7" text-anchor="middle" fill="#2a2a2a"  stroke="#2a2a2a" stroke-width="0.2">8.6 ± 0.4</text>
<text x="449.5" y="307.9" font-size="7.15" text-anchor="middle" font-weight="bold" fill="#1a1a1a"  stroke="#1a1a1a" stroke-width="0.2">HGB</text>
<text x="449.0" y="326.9" font-size="6.7" text-anchor="middle" fill="#2a2a2a"  stroke="#2a2a2a" stroke-width="0.2">14.4 ± 0.5</text>
<text x="449.0" y="347.0" font-size="6.7" text-anchor="middle" fill="#2a2a2a"  stroke="#2a2a2a" stroke-width="0.2">12.1 ± 0.8</text>
<text x="494.3" y="307.9" font-size="7.15" text-anchor="middle" font-weight="bold" fill="#1a1a1a"  stroke="#1a1a1a" stroke-width="0.2">PLT</text>
<text x="493.6" y="326.9" font-size="6.7" text-anchor="middle" fill="#2a2a2a"  stroke="#2a2a2a" stroke-width="0.2">798.0 ± 59.8</text>
<text x="493.6" y="347.0" font-size="6.7" text-anchor="middle" fill="#2a2a2a"  stroke="#2a2a2a" stroke-width="0.2">765.7 ± 73.8</text>
<text x="221.6" y="327.5" font-size="7.1" text-anchor="start" font-weight="bold" fill="#111"  stroke="#111" stroke-width="0.2">WT</text>
<text x="221.7" y="347.2" font-size="7.1" text-anchor="start" font-weight="bold" fill="#111"  stroke="#111" stroke-width="0.2">KO</text>
</g>
</svg>
</body></html>
